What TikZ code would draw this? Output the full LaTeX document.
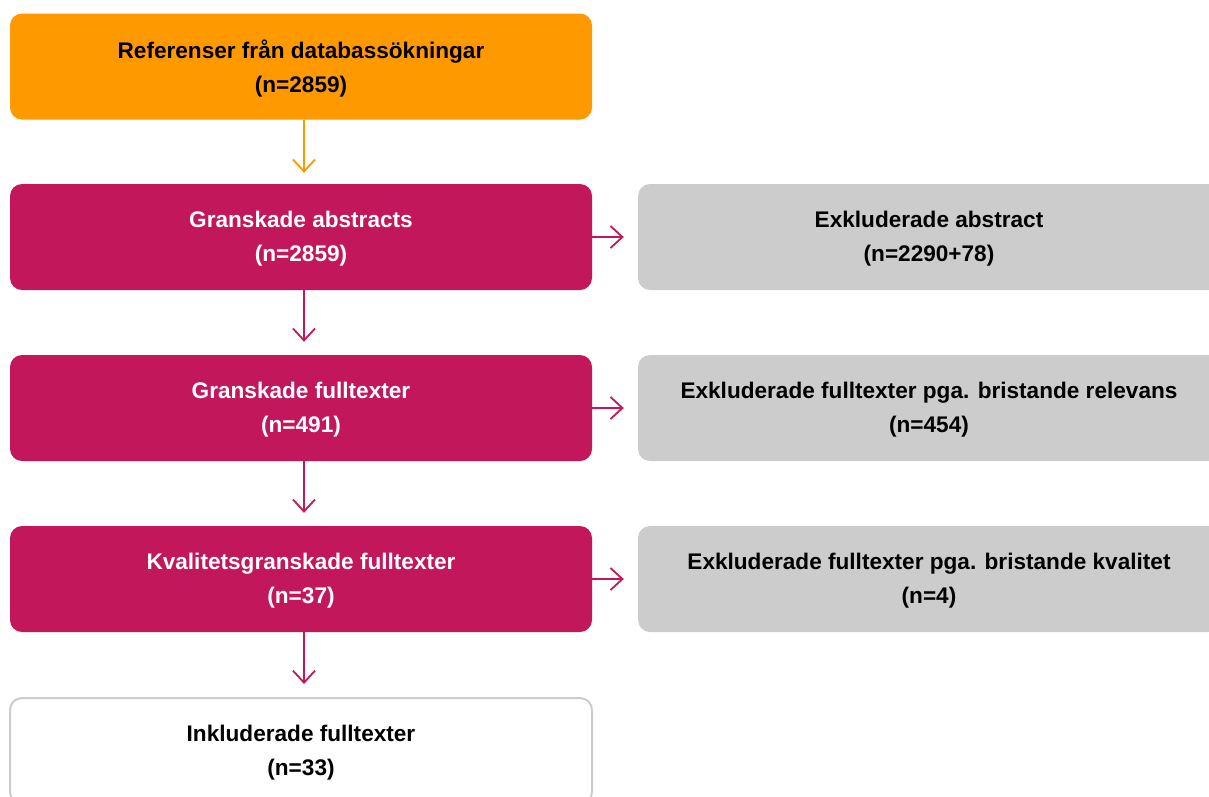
\documentclass[tikz,border=0pt]{standalone}
\usepackage{fontspec}
\setmainfont{Liberation Sans}
\usetikzlibrary{arrows.meta}
\definecolor{cOrange}{RGB}{255,153,0}
\definecolor{cMag}{RGB}{194,24,91}
\definecolor{cGray}{RGB}{204,204,204}
\tikzset{
  box/.style={rectangle, rounded corners=12pt, minimum width=582pt, minimum height=106pt,
    inner sep=0pt},
  orangebox/.style={box, fill=cOrange},
  magbox/.style={box, fill=cMag},
  graybox/.style={box, fill=cGray},
  whitebox/.style={box, fill=white, draw=cGray, line width=2pt},
  txt/.style={inner sep=0pt, align=center, font=\fontsize{22.6pt}{34pt}\selectfont\bfseries, text=black},
  wtxt/.style={txt, text=white},
  arr/.style={line width=1.8pt, -{Straight Barb[length=12pt,width=22pt,line width=1.8pt]}},
}
\begin{document}
\begin{tikzpicture}[x=1pt,y=-1pt]
\useasboundingbox (0,0) rectangle (1209,796);
\clip (0,0) rectangle (1209,796);
\node[orangebox] (ref) at (301,66.5) {};
\node[magbox] (abs) at (301,237) {};
\node[magbox] (full) at (301,408) {};
\node[magbox] (kval) at (301,579) {};
\node[whitebox] (inkl) at (301,751) {};
\node[graybox] (exabs) at (929,237) {};
\node[graybox] (exfull) at (929,408) {};
\node[graybox] (exkval) at (929,579) {};
\node[txt] (tref) at ([yshift=-2pt]ref.center) {Referenser från databassökningar\\(n=2859)};
\node[wtxt] (tabs) at ([yshift=-2pt]abs.center) {Granskade abstracts\\(n=2859)};
\node[wtxt] (tfull) at ([yshift=-2pt]full.center) {Granskade fulltexter\\(n=491)};
\node[wtxt] (tkval) at ([yshift=-2pt]kval.center) {Kvalitetsgranskade fulltexter\\(n=37)};
\node[txt] (tinkl) at ([yshift=-2pt]inkl.center) {Inkluderade fulltexter\\(n=33)};
\node[txt] (texabs) at ([yshift=-2pt]exabs.center) {Exkluderade abstract\\(n=2290+78)};
\node[txt] (texfull) at ([yshift=-2pt]exfull.center) {Exkluderade fulltexter pga. bristande relevans\\(n=454)};
\node[txt] (texkval) at ([yshift=-2pt]exkval.center) {Exkluderade fulltexter pga. bristande kvalitet\\(n=4)};
\draw[arr, cOrange] ([xshift=3pt]ref.south) -- ([xshift=3pt,yshift=11pt]abs.north);
\draw[arr, cMag] ([xshift=3pt]abs.south) -- ([xshift=3pt,yshift=13pt]full.north);
\draw[arr, cMag] ([xshift=3pt]full.south) -- ([xshift=3pt,yshift=13pt]kval.north);
\draw[arr, cMag] ([xshift=3pt]kval.south) -- ([xshift=3pt,yshift=13pt]inkl.north);
\draw[arr, cMag] (abs.east) -- ([xshift=-14pt]exabs.west);
\draw[arr, cMag] (full.east) -- ([xshift=-14pt]exfull.west);
\draw[arr, cMag] (kval.east) -- ([xshift=-14pt]exkval.west);
\end{tikzpicture}
\end{document}
